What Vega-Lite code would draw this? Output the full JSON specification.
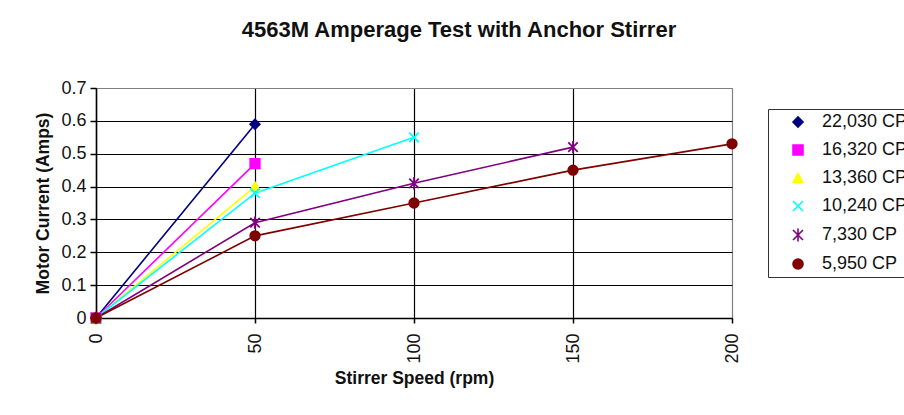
{
  "$schema": "https://vega.github.io/schema/vega-lite/v6.json",
  "width": 636,
  "height": 230,
  "autosize": {"type": "none"},
  "padding": {"left": 96, "top": 88, "right": 172, "bottom": 97},
  "background": "white",
  "title": {
    "text": "4563M Amperage Test with Anchor Stirrer",
    "font": "Liberation Sans",
    "fontSize": 22,
    "fontWeight": "bold",
    "color": "#111",
    "anchor": "middle",
    "frame": "group",
    "dx": 45,
    "baseline": "alphabetic",
    "offset": 20
  },
  "config": {
    "view": {"stroke": "#808080", "strokeWidth": 1},
    "axis": {
      "labelFont": "Liberation Sans",
      "titleFont": "Liberation Sans",
      "labelFontSize": 18,
      "titleFontSize": 17.5,
      "titleFontWeight": "bold",
      "labelColor": "#111",
      "titleColor": "#111",
      "domainColor": "#000",
      "tickColor": "#000",
      "domainWidth": 1.5,
      "tickWidth": 1.5
    },
    "legend": {
      "labelFont": "Liberation Sans",
      "labelFontSize": 18,
      "labelColor": "#111"
    }
  },
  "data": {
    "values": [
      {"series": "22,030 CP", "speed": 0, "amps": 0},
      {"series": "22,030 CP", "speed": 50, "amps": 0.59},
      {"series": "16,320 CP", "speed": 0, "amps": 0},
      {"series": "16,320 CP", "speed": 50, "amps": 0.47},
      {"series": "13,360 CP", "speed": 0, "amps": 0},
      {"series": "13,360 CP", "speed": 50, "amps": 0.40},
      {"series": "10,240 CP", "speed": 0, "amps": 0},
      {"series": "10,240 CP", "speed": 50, "amps": 0.38},
      {"series": "10,240 CP", "speed": 100, "amps": 0.55},
      {"series": "7,330 CP", "speed": 0, "amps": 0},
      {"series": "7,330 CP", "speed": 50, "amps": 0.29},
      {"series": "7,330 CP", "speed": 100, "amps": 0.41},
      {"series": "7,330 CP", "speed": 150, "amps": 0.52},
      {"series": "5,950 CP", "speed": 0, "amps": 0},
      {"series": "5,950 CP", "speed": 50, "amps": 0.25},
      {"series": "5,950 CP", "speed": 100, "amps": 0.35},
      {"series": "5,950 CP", "speed": 150, "amps": 0.45},
      {"series": "5,950 CP", "speed": 200, "amps": 0.53}
    ]
  },
  "encoding": {
    "x": {
      "field": "speed",
      "type": "quantitative",
      "scale": {"domain": [0, 200], "nice": false},
      "axis": {
        "title": "Stirrer Speed (rpm)",
        "values": [0, 50, 100, 150, 200],
        "labelAngle": -90,
        "tickSize": 5,
        "labelPadding": 10,
        "titlePadding": 6,
        "gridColor": {"condition": {"test": "datum.value >= 200", "value": "#808080"}, "value": "#000"},
        "gridWidth": 1.2
      }
    },
    "y": {
      "field": "amps",
      "type": "quantitative",
      "scale": {"domain": [0, 0.7], "nice": false},
      "axis": {
        "title": "Motor Current (Amps)",
        "values": [0, 0.1, 0.2, 0.3, 0.4, 0.5, 0.6, 0.7],
        "format": "~g",
        "tickSize": 6,
        "labelPadding": 4,
        "titlePadding": 8,
        "gridColor": {"condition": {"test": "datum.value >= 0.69", "value": "#808080"}, "value": "#000"},
        "gridWidth": 1.2
      }
    }
  },
  "layer": [
    {
      "mark": {"type": "line", "strokeWidth": 1.6, "clip": false},
      "encoding": {
        "stroke": {
          "field": "series",
          "type": "nominal",
          "scale": {
            "domain": ["22,030 CP", "16,320 CP", "13,360 CP", "10,240 CP", "7,330 CP", "5,950 CP"],
            "range": ["#000080", "#FF00FF", "#FFFF00", "#00FFFF", "#800080", "#800000"]
          }
        },
        "order": {"field": "speed"}
      }
    },
    {
      "mark": {"type": "point", "filled": true, "opacity": 1, "size": 90, "strokeWidth": 1.8, "clip": false},
      "encoding": {
        "fill": {
          "field": "series",
          "type": "nominal",
          "scale": {
            "domain": ["22,030 CP", "16,320 CP", "13,360 CP", "10,240 CP", "7,330 CP", "5,950 CP"],
            "range": ["#000080", "#FF00FF", "#FFFF00", "#00FFFF", "#800080", "#800000"]
          },
          "legend": {
            "title": null,
            "orient": "none",
            "legendX": 672,
            "legendY": 21,
            "padding": 4,
            "rowPadding": 10,
            "strokeColor": "#333",
            "fillColor": "white",
            "symbolSize": 100,
            "symbolStrokeWidth": 1.6,
            "symbolOffset": 17,
            "labelOffset": 15
          }
        },
        "stroke": {
          "field": "series",
          "type": "nominal"
        },
        "shape": {
          "field": "series",
          "type": "nominal",
          "scale": {
            "domain": ["22,030 CP", "16,320 CP", "13,360 CP", "10,240 CP", "7,330 CP", "5,950 CP"],
            "range": ["diamond", "square", "triangle-up", "M-1,-1L1,1M-1,1L1,-1", "M-1,-1L1,1M-1,1L1,-1M0,-1.3V1.3", "circle"]
          }
        }
      }
    }
  ]
}
